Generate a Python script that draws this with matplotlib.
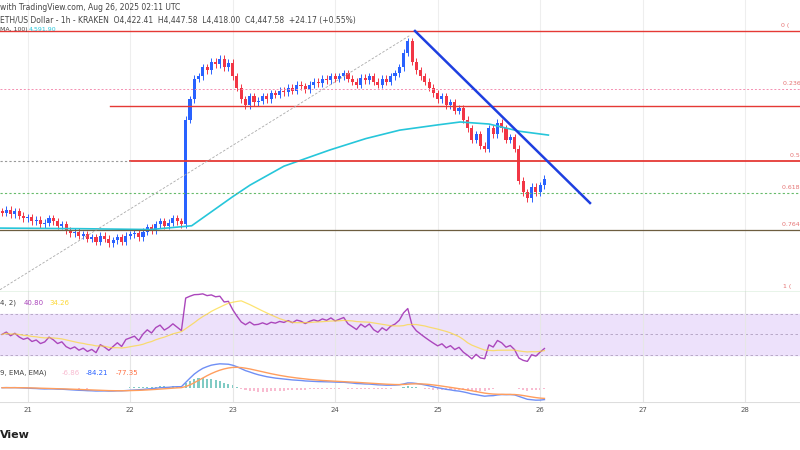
import numpy as np
import matplotlib
matplotlib.use("Agg")
import matplotlib.pyplot as plt

closes = [4330,4340,4325,4335,4320,4310,
 4315,4300,4305,4290,4295,4310,4300,4285,4290,4270,4260,4265,4250,4255,4240,4245,4230,4250,4240,4225,4235,4245,4230,4250,
 4255,4260,4245,4265,4280,4270,4290,4300,4285,4295,4310,4300,4290,4650,4720,4790,4800,4830,4820,4850,4840,4860,4830,4845,
 4800,4760,4720,4700,4730,4710,4715,4730,4720,4740,4735,4750,4745,4760,4750,4770,4765,4755,4770,4780,4775,4790,4785,4800,
 4790,4800,4810,4790,4780,4770,4795,4785,4800,4780,4770,4790,4780,4800,4810,4830,4880,4920,4850,4820,4800,4780,4760,4740,
 4720,4730,4700,4710,4680,4690,4650,4620,4580,4600,4560,4550,4620,4600,4640,4620,4580,4590,4550,4440,4400,4380,4420,4400,
 4425,4447.58]
start_day = 20.75
ema_days = [20.73, 21.5, 22.2, 22.6, 23.0, 23.17, 23.5, 23.95, 24.3, 24.63, 25.0, 25.22, 25.5, 25.8, 26.08]
ema_vals = [4277, 4275, 4272, 4285, 4385, 4425, 4490, 4546, 4585, 4614, 4632, 4642, 4635, 4610, 4597]
fib_levels = [0, 0.236, 0.5, 0.618, 0.764, 1]
fib_prices = [4955, 4755, 4508, 4398, 4270, 4057]
res_price = 4697
day_ticks = [21, 22, 23, 24, 25, 26, 27, 28]
header = "ETH/US Dollar - 1h - KRAKEN  O4,422.41  H4,447.58  L4,418.00  C4,447.58  +24.17 (+0.55%)"

closes = np.array(closes, float)
n = len(closes)
x = start_day + np.arange(n) / 24.0
opens = np.r_[closes[0] + 5, closes[:-1]]
highs = np.maximum(opens, closes) + 12
lows = np.minimum(opens, closes) - 12

W, H = 800, 450
fig = plt.figure(figsize=(8, 4.5), dpi=100)
def ax_at(top, bottom):
    return fig.add_axes([0, 1 - bottom / H, 1, (bottom - top) / H])
x0 = 20.73; x1 = x0 + 800 / 102.5
px = lambda p: x0 + p / 102.5
ax = ax_at(0, 292)
ax.set_xlim(x0, x1)
ax.set_ylim(4955 - (292 - 31) * 3.44, 4955 + 31 * 3.44)
for d in day_ticks:
    ax.axvline(d, color="#eeeeee", lw=0.8, zorder=0)
up = "#2962ff"; dn = "#f23645"
for i in range(n):
    c = up if closes[i] >= opens[i] else dn
    ax.vlines(x[i], lows[i], highs[i], color=c, lw=0.7)
    ax.bar(x[i], closes[i] - opens[i] if closes[i] != opens[i] else 2, bottom=opens[i],
           width=0.03, color=c, lw=0)
ax.plot(ema_days, ema_vals, color="#26c6da", lw=1.2)
ax.axhline(fib_prices[0], color="#e53935", lw=1)
ax.axhline(fib_prices[1], color="#f48fb1", lw=0.7, ls=(0, (2, 2)))
ax.plot([px(110), x1], [res_price] * 2, color="#e53935", lw=1)
ax.plot([px(130), x1], [fib_prices[2]] * 2, color="#e53935", lw=1.3)
ax.plot([x0, px(130)], [fib_prices[2]] * 2, color="#999999", lw=0.8, ls=(0, (2, 2)))
ax.axhline(fib_prices[3], color="#66bb6a", lw=0.8, ls=(0, (2, 2)))
ax.axhline(fib_prices[4], color="#6d5d3f", lw=0.9)
ax.axhline(fib_prices[5], color="#4caf50", lw=0.9)
ax.plot([x0, px(410)], [4065, 4940], color="#aaaaaa", lw=0.6, ls=(0, (3, 2)))
ax.plot([px(415), px(590)], [4955, 4955 - (203 - 31) * 3.44], color="#1e3fe0", lw=1.8)
labx = [781, 783, 790, 782, 782, 783]
for lv, p, lx in zip(fib_levels, fib_prices, labx):
    ax.text(px(lx), p + 18, f"{lv:g} (", fontsize=4.5, color="#e57373", ha="left", va="center")
ax.axis("off")
fig.text(0, 1 - 7 / H, "with TradingView.com, Aug 26, 2025 02:11 UTC", fontsize=5.5, color="#444", va="center")
fig.text(0, 1 - 21 / H, header, fontsize=5.5, color="#444", va="center")
fig.text(0, 1 - 29 / H, "MA, 100)", fontsize=4.5, color="#444", va="center")
fig.text(0.036, 1 - 29 / H, "4,591.90", fontsize=4.5, color="#26c6da", va="center")

# RSI
d = np.diff(closes, prepend=closes[0])
g = np.where(d > 0, d, 0); l = np.where(d < 0, -d, 0)
ag = np.zeros(n); al = np.zeros(n); ag[0] = 8; al[0] = 8
for i in range(1, n):
    ag[i] = (ag[i-1] * 13 + g[i]) / 14; al[i] = (al[i-1] * 13 + l[i]) / 14
rsi = 100 - 100 / (1 + ag / np.maximum(al, 1e-9))
rsi_ma = np.convolve(rsi, np.ones(14) / 14, mode="full")[:n]
rsi_ma[:14] = np.cumsum(rsi[:14]) / np.arange(1, 15)
ra = ax_at(292, 362)
ra.set_xlim(x0, x1); ra.set_ylim(23, 91.5)
ra.axhspan(30, 70, color="#ede1fb")
for lv in (30, 50, 70):
    ra.axhline(lv, color="#b0a0c0", lw=0.6, ls=(0, (3, 3)))
for dd in day_ticks:
    ra.axvline(dd, color="#e6e6e6", lw=0.8)
ra.plot(x, rsi, color="#ab47bc", lw=1)
ra.plot(x, rsi_ma, color="#fdd835", lw=0.9, alpha=0.7)
ra.axis("off")
fig.text(0, 1 - 303 / H, "4, 2)", fontsize=5, color="#444", va="center")
fig.text(0.03, 1 - 303 / H, "40.80", fontsize=5, color="#ab47bc", va="center")
fig.text(0.062, 1 - 303 / H, "34.26", fontsize=5, color="#fdd835", va="center")

# MACD
def ema(a, p):
    k = 2 / (p + 1); o = np.zeros_like(a); o[0] = a[0]
    for i in range(1, len(a)):
        o[i] = a[i] * k + o[i-1] * (1 - k)
    return o
macd = ema(closes, 12) - ema(closes, 26)
sig = ema(macd, 9)
hist = macd - sig
ma = ax_at(362, 402)
ma.set_xlim(x0, x1)
for dd in day_ticks:
    ma.axvline(dd, color="#e6e6e6", lw=0.8)
ma.bar(x, hist, width=0.02, color=np.where(hist >= 0, "#80cbc4", "#f8bbd0"))
ma.plot(x, macd, color="#6f8ff5", lw=1)
ma.plot(x, sig, color="#ff9e5e", lw=1)
ma.axis("off")
fig.text(0, 1 - 373 / H, "9, EMA, EMA)", fontsize=5, color="#444", va="center")
fig.text(0.077, 1 - 373 / H, "-6.86", fontsize=5, color="#f8bbd0", va="center")
fig.text(0.107, 1 - 373 / H, "-84.21", fontsize=5, color="#2962ff", va="center")
fig.text(0.145, 1 - 373 / H, "-77.35", fontsize=5, color="#ff7043", va="center")

xa = ax_at(402, 420)
xa.set_xlim(x0, x1); xa.set_ylim(0, 1)
xa.axhline(1, color="#dddddd", lw=0.8)
for dd in day_ticks:
    xa.text(dd, 0.55, str(dd), fontsize=5, color="#555", ha="center", va="center")
xa.axis("off")
fig.text(0, 1 - 435 / H, "View", fontsize=8, fontweight="bold", color="#222", va="center")
fig.savefig("out.png", dpi=100, facecolor="white")
